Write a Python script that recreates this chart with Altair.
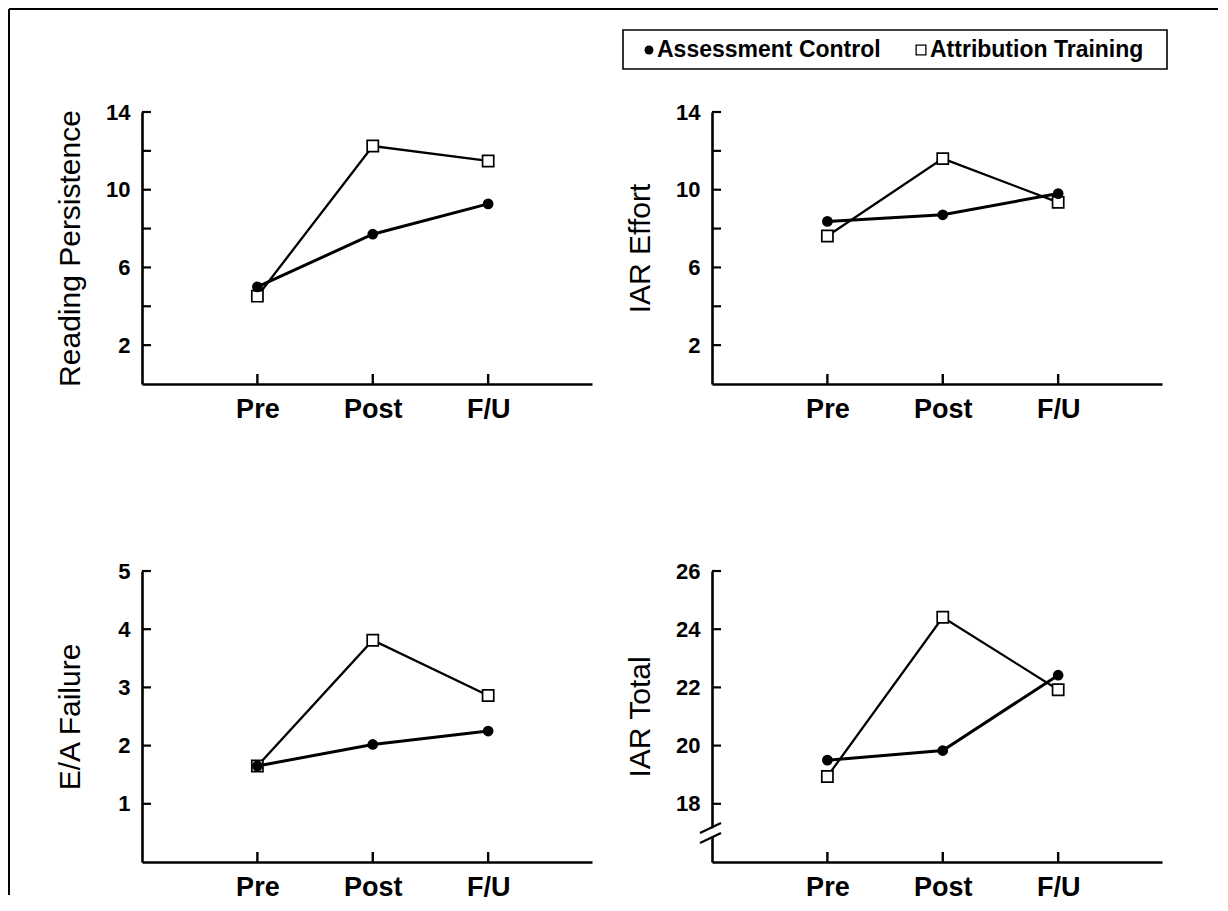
import altair as alt
import pandas as pd

# ---------------- data ----------------
phases = ["Pre", "Post", "F/U"]
groups = ["Assessment Control", "Attribution Training"]

persistence_control = [5.0, 7.71, 9.27]
persistence_training = [4.52, 12.25, 11.48]

effort_control = [8.37, 8.71, 9.8]
effort_training = [7.62, 11.6, 9.35]

failure_control = [1.65, 2.02, 2.25]
failure_training = [1.65, 3.81, 2.86]

total_control = [19.5, 19.83, 22.42]
total_training = [18.94, 24.41, 21.92]

titles = ["Reading Persistence", "IAR Effort", "E/A Failure", "IAR Total"]
y_domains = [[0, 14], [0, 14], [0, 5], [16, 26]]
tick_values = [[2, 4, 6, 8, 10, 12, 14], [2, 4, 6, 8, 10, 12, 14],
               [1, 2, 3, 4, 5], [18, 20, 22, 24, 26]]
label_values = [[2, 6, 10, 14], [2, 6, 10, 14], [1, 2, 3, 4, 5], [18, 20, 22, 24, 26]]

# axis break on the IAR Total axis (value range of the two slashes and of the gap)
break_low = [17.0, 16.65]
break_high = [17.34, 17.0]
gap_low = [16.88]
gap_high = [17.16]

# ---------------- layout ----------------
FONT = "Liberation Sans"
W = 450
H_TOP = 272
H_BOT = 291
XMAX = 3.9
one = pd.DataFrame({"k": [0]})


def make_panel(title, control, training, domain, ticks, labels, height, extras=()):
    n = len(phases)
    df = pd.DataFrame({
        "idx": list(range(1, n + 1)) * 2,
        "phase": phases * 2,
        "group": [groups[0]] * n + [groups[1]] * n,
        "value": control + training,
    })
    label_expr_x = "[" + ",".join("'" + p + "'" for p in phases) + "][datum.value - 1]"
    label_list = ",".join(str(v) for v in labels)
    x_axis = alt.Axis(values=list(range(1, n + 1)), labelExpr=label_expr_x, title=None,
                      grid=False, ticks=False, tickSize=0, domainColor="black",
                      domainWidth=2.6, labelFont=FONT, labelFontSize=27,
                      labelFontWeight="bold", labelColor="black", labelPadding=12,
                      labelBaseline="top", labelFlush=False, zindex=0)
    y_axis = alt.Axis(values=ticks,
                      labelExpr="indexof([" + label_list + "], datum.value) >= 0 ? datum.label : ''",
                      title=title, titleFont=FONT, titleFontSize=30, titleFontWeight="normal",
                      titleColor="black", titleAngle=270, titleBaseline="alphabetic",
                      titleAlign="center", titleX=-63, titleY=height / 2,
                      grid=False, ticks=False, tickSize=0, domainColor="black",
                      domainWidth=2.6, labelFont=FONT, labelFontSize=22,
                      labelFontWeight="bold", labelColor="black", labelPadding=12,
                      labelAlign="right", labelBaseline="middle", labelFlush=False,
                      labelOverlap=False, zindex=0)
    xs = alt.Scale(domain=[0, XMAX], nice=False, zero=False)
    ys = alt.Scale(domain=domain, nice=False, zero=False)

    def X(f):
        return alt.X(f, type="quantitative", scale=xs, axis=x_axis)

    def Y(f):
        return alt.Y(f, type="quantitative", scale=ys, axis=y_axis)

    base = alt.Chart(df)
    train_line = base.transform_filter(alt.datum.group == groups[1]).mark_line(
        color="black", strokeWidth=2.3).encode(x=X("idx"), y=Y("value"), order="idx:Q")
    ctrl_line = base.transform_filter(alt.datum.group == groups[0]).mark_line(
        color="black", strokeWidth=3).encode(x=X("idx"), y=Y("value"), order="idx:Q")
    squares = base.transform_filter(alt.datum.group == groups[1]).mark_square(
        fill="white", stroke="black", strokeWidth=1.7, size=125, opacity=1).encode(
        x=X("idx"), y=Y("value"))
    circles = base.transform_filter(alt.datum.group == groups[0]).mark_circle(
        color="black", size=115, opacity=1).encode(x=X("idx"), y=Y("value"))

    ytick = alt.Chart(pd.DataFrame({"v": ticks})).mark_rule(
        color="black", strokeWidth=2.2).encode(y=Y("v"), x=alt.value(0), x2=alt.value(9))
    xtick = alt.Chart(pd.DataFrame({"i": list(range(1, n + 1))})).mark_rule(
        color="black", strokeWidth=2.4).encode(x=X("i"), y=alt.value(height),
                                               y2=alt.value(height - 10))

    layers = [ytick, xtick, train_line, ctrl_line, squares, circles]
    for e in extras:
        layers.append(e(X, Y))
    return alt.layer(*layers).properties(width=W, height=height)


def frame_layers(X, Y):
    top = alt.Chart(one).mark_rule(color="black", strokeWidth=2).encode(
        x=alt.value(-133), x2=alt.value(1076), y=alt.value(-103))
    left = alt.Chart(one).mark_rule(color="black", strokeWidth=2).encode(
        x=alt.value(-133), y=alt.value(-103), y2=alt.value(783))
    return alt.layer(top, left)


def legend_layers(X, Y):
    box = alt.Chart(one).mark_rect(fillOpacity=0, stroke="black", strokeWidth=1.6).encode(
        x=alt.value(-89), x2=alt.value(455), y=alt.value(-82), y2=alt.value(-43))
    dot = alt.Chart(one).mark_circle(color="black", size=80, opacity=1).encode(
        x=alt.value(-63), y=alt.value(-62))
    t1 = alt.Chart(one).mark_text(align="left", baseline="middle", font=FONT, fontSize=23,
                                  fontWeight="bold", color="black").encode(
        x=alt.value(-55), y=alt.value(-62), text=alt.value(groups[0]))
    sq = alt.Chart(one).mark_square(fill="white", stroke="black", strokeWidth=1.3,
                                    size=95, opacity=1).encode(
        x=alt.value(209), y=alt.value(-62))
    t2 = alt.Chart(one).mark_text(align="left", baseline="middle", font=FONT, fontSize=23,
                                  fontWeight="bold", color="black").encode(
        x=alt.value(218), y=alt.value(-62), text=alt.value(groups[1]))
    return alt.layer(box, dot, t1, sq, t2)


def break_layers(X, Y):
    gap = alt.Chart(pd.DataFrame({"lo": gap_low, "hi": gap_high})).mark_rule(
        color="white", strokeWidth=8).encode(x=alt.value(0), y=Y("lo"), y2=alt.Y2("hi"))
    slashes = alt.Chart(pd.DataFrame({"lo": break_low, "hi": break_high})).mark_rule(
        color="black", strokeWidth=2.2).encode(x=alt.value(-12), x2=alt.value(9),
                                               y=Y("lo"), y2=alt.Y2("hi"))
    return alt.layer(gap, slashes)


p1 = make_panel(titles[0], persistence_control, persistence_training, y_domains[0],
                tick_values[0], label_values[0], H_TOP, extras=[frame_layers])
p2 = make_panel(titles[1], effort_control, effort_training, y_domains[1],
                tick_values[1], label_values[1], H_TOP, extras=[legend_layers])
p3 = make_panel(titles[2], failure_control, failure_training, y_domains[2],
                tick_values[2], label_values[2], H_BOT)
p4 = make_panel(titles[3], total_control, total_training, y_domains[3],
                tick_values[3], label_values[3], H_BOT, extras=[break_layers])

chart = alt.concat(p1, p2, p3, p4, columns=2,
                   spacing=alt.RowColnumber(row=187, column=120),
                   bounds="flush").configure_view(
    stroke=None).properties(padding=0, background="white")

chart.save("out.html", embed_options={"renderer": "svg", "actions": False})
